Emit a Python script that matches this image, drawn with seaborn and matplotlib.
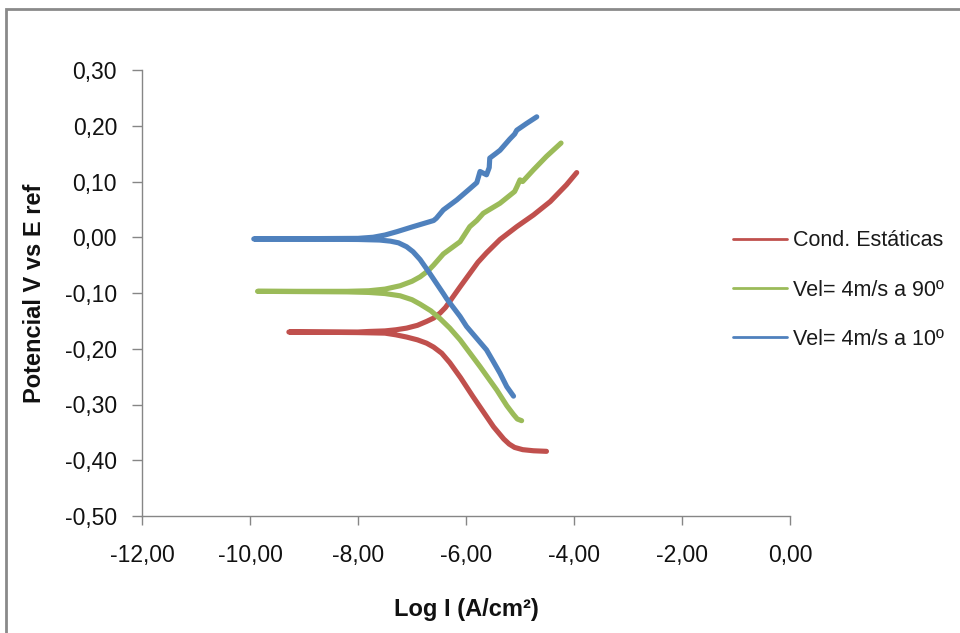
import matplotlib
matplotlib.use("Agg")
import matplotlib.pyplot as plt
from matplotlib.patches import Rectangle
from matplotlib.ticker import FuncFormatter
import seaborn as sns
import pandas as pd

# ---- data (log I, potential) ----
series_names = ["Cond. Estáticas", "Vel= 4m/s a 90º", "Vel= 4m/s a 10º"]

red_x = [-4.51, -4.75, -4.95, -5.10, -5.20, -5.30, -5.49, -5.68, -5.87, -6.10, -6.30, -6.45, -6.60,
         -6.73, -6.90, -7.10, -7.30, -7.50, -8.00, -9.28,
         -8.00, -7.80, -7.50, -7.30, -7.10, -6.90, -6.73, -6.60, -6.48, -6.38, -6.30, -6.11, -5.93,
         -5.78, -5.62, -5.37, -5.06, -4.75, -4.44, -4.14, -3.95]
red_y = [-0.384, -0.383, -0.381, -0.377, -0.371, -0.362, -0.340, -0.313, -0.286, -0.252, -0.225, -0.208, -0.197,
         -0.190, -0.184, -0.179, -0.175, -0.172, -0.171, -0.170,
         -0.170, -0.169, -0.168, -0.166, -0.163, -0.158, -0.151, -0.145, -0.136, -0.126, -0.115, -0.089, -0.065,
         -0.045, -0.028, -0.004, 0.019, 0.040, 0.064, 0.094, 0.116]

green_x = [-4.97, -5.05, -5.12, -5.245, -5.43, -5.74, -6.11, -6.30, -6.48, -6.65, -6.85, -7.00, -7.22,
           -7.50, -7.80, -8.20, -9.86,
           -8.20, -7.80, -7.50, -7.22, -7.00, -6.85, -6.70, -6.60, -6.42, -6.11, -5.93, -5.80, -5.68,
           -5.37, -5.10, -5.06, -5.00, -4.95, -4.75, -4.51, -4.24]
green_y = [-0.329, -0.326, -0.318, -0.302, -0.274, -0.232, -0.184, -0.163, -0.146, -0.132, -0.120, -0.112, -0.105,
           -0.101, -0.099, -0.098, -0.097,
           -0.097, -0.096, -0.093, -0.087, -0.079, -0.071, -0.060, -0.050, -0.030, -0.008, 0.019, 0.030, 0.043,
           0.061, 0.082, 0.090, 0.103, 0.100, 0.121, 0.145, 0.169]

blue_x = [-5.12, -5.245, -5.37, -5.50, -5.62, -5.99, -6.11, -6.36, -6.42, -6.67, -6.85, -6.98, -7.10,
          -7.25, -7.40, -7.60, -8.00, -9.93,
          -8.00, -7.72, -7.50, -7.28, -6.98, -6.60, -6.55, -6.42, -6.17, -5.99, -5.93, -5.80, -5.74,
          -5.62, -5.57, -5.56, -5.45, -5.37, -5.19, -5.10, -5.06, -4.88, -4.69]
blue_y = [-0.285, -0.268, -0.244, -0.222, -0.202, -0.160, -0.142, -0.110, -0.101, -0.065, -0.040, -0.026, -0.017,
          -0.010, -0.007, -0.005, -0.004, -0.003,
          -0.002, 0.000, 0.004, 0.010, 0.019, 0.030, 0.034, 0.049, 0.067, 0.082, 0.087, 0.098, 0.118,
          0.112, 0.125, 0.142, 0.150, 0.156, 0.176, 0.185, 0.192, 0.204, 0.216]

colors = ["#C0504D", "#9BBB59", "#4F81BD"]

x_ticks = [-12, -10, -8, -6, -4, -2, 0]
y_ticks = [-0.5, -0.4, -0.3, -0.2, -0.1, 0.0, 0.1, 0.2, 0.3]

# ---- build table ----
frames = []
for name, xs, ys in zip(series_names, [red_x, green_x, blue_x], [red_y, green_y, blue_y]):
    frames.append(pd.DataFrame({"logI": xs, "E": ys, "serie": name}))
df = pd.concat(frames, ignore_index=True)

sns.set_style("white")
plt.rcParams["font.family"] = ["Liberation Sans", "DejaVu Sans"]

fig = plt.figure(figsize=(9.6, 6.33), dpi=100)
ax = fig.add_axes([142 / 960, 1 - 516 / 633, 648 / 960, 446 / 633])

sns.lineplot(data=df, x="logI", y="E", hue="serie", palette=colors, sort=False,
             estimator=None, linewidth=3.7, ax=ax,
             solid_capstyle="round", solid_joinstyle="round")

ax.set_xlim(-12, 0)
ax.set_ylim(-0.5, 0.3)
ax.set_xticks(x_ticks)
ax.set_yticks(y_ticks)
fmt = FuncFormatter(lambda v, p: f"{round(v, 2) + 0.0:.2f}".replace(".", ","))
ax.xaxis.set_major_formatter(fmt)
ax.yaxis.set_major_formatter(fmt)

for s in ["top", "right"]:
    ax.spines[s].set_visible(False)
for s in ["left", "bottom"]:
    ax.spines[s].set_color("#868686")
    ax.spines[s].set_linewidth(1.0)

ax.tick_params(axis="x", direction="out", length=6.5, width=1, color="#868686",
               pad=14, labelsize=16.5, labelcolor="#111111", bottom=True)
ax.tick_params(axis="y", direction="out", length=7, width=1, color="#868686",
               pad=11, labelsize=16.5, labelcolor="#111111", left=True)

ax.set_xlabel("Log I (A/cm²)", fontsize=17, fontweight="bold", color="#111111")
ax.set_ylabel("Potencial V vs E ref", fontsize=17, fontweight="bold", color="#111111")
ax.xaxis.set_label_coords(0.5, -0.183)
ax.yaxis.set_label_coords(-0.148, 0.5)

handles, labels = ax.get_legend_handles_labels()
leg = ax.legend(handles, labels, loc="center left", bbox_to_anchor=(733 / 960, 1 - 290 / 633),
                bbox_transform=fig.transFigure, frameon=False, fontsize=15.5,
                handlelength=2.5, handletextpad=0.3, labelspacing=1.32,
                borderpad=0, borderaxespad=0)
for line in leg.get_lines():
    line.set_linewidth(2.0)
for t in leg.get_texts():
    t.set_color("#1a1a1a")

# outer chart border (partly cropped in the reference)
fig.add_artist(Rectangle((5.5 / 960, -0.2), 2.0, 1.2 - 8.5 / 633, transform=fig.transFigure,
                         fill=False, edgecolor="#8a8a8a", linewidth=2.0, clip_on=False))

fig.savefig("out.png", dpi=100, facecolor="white")
